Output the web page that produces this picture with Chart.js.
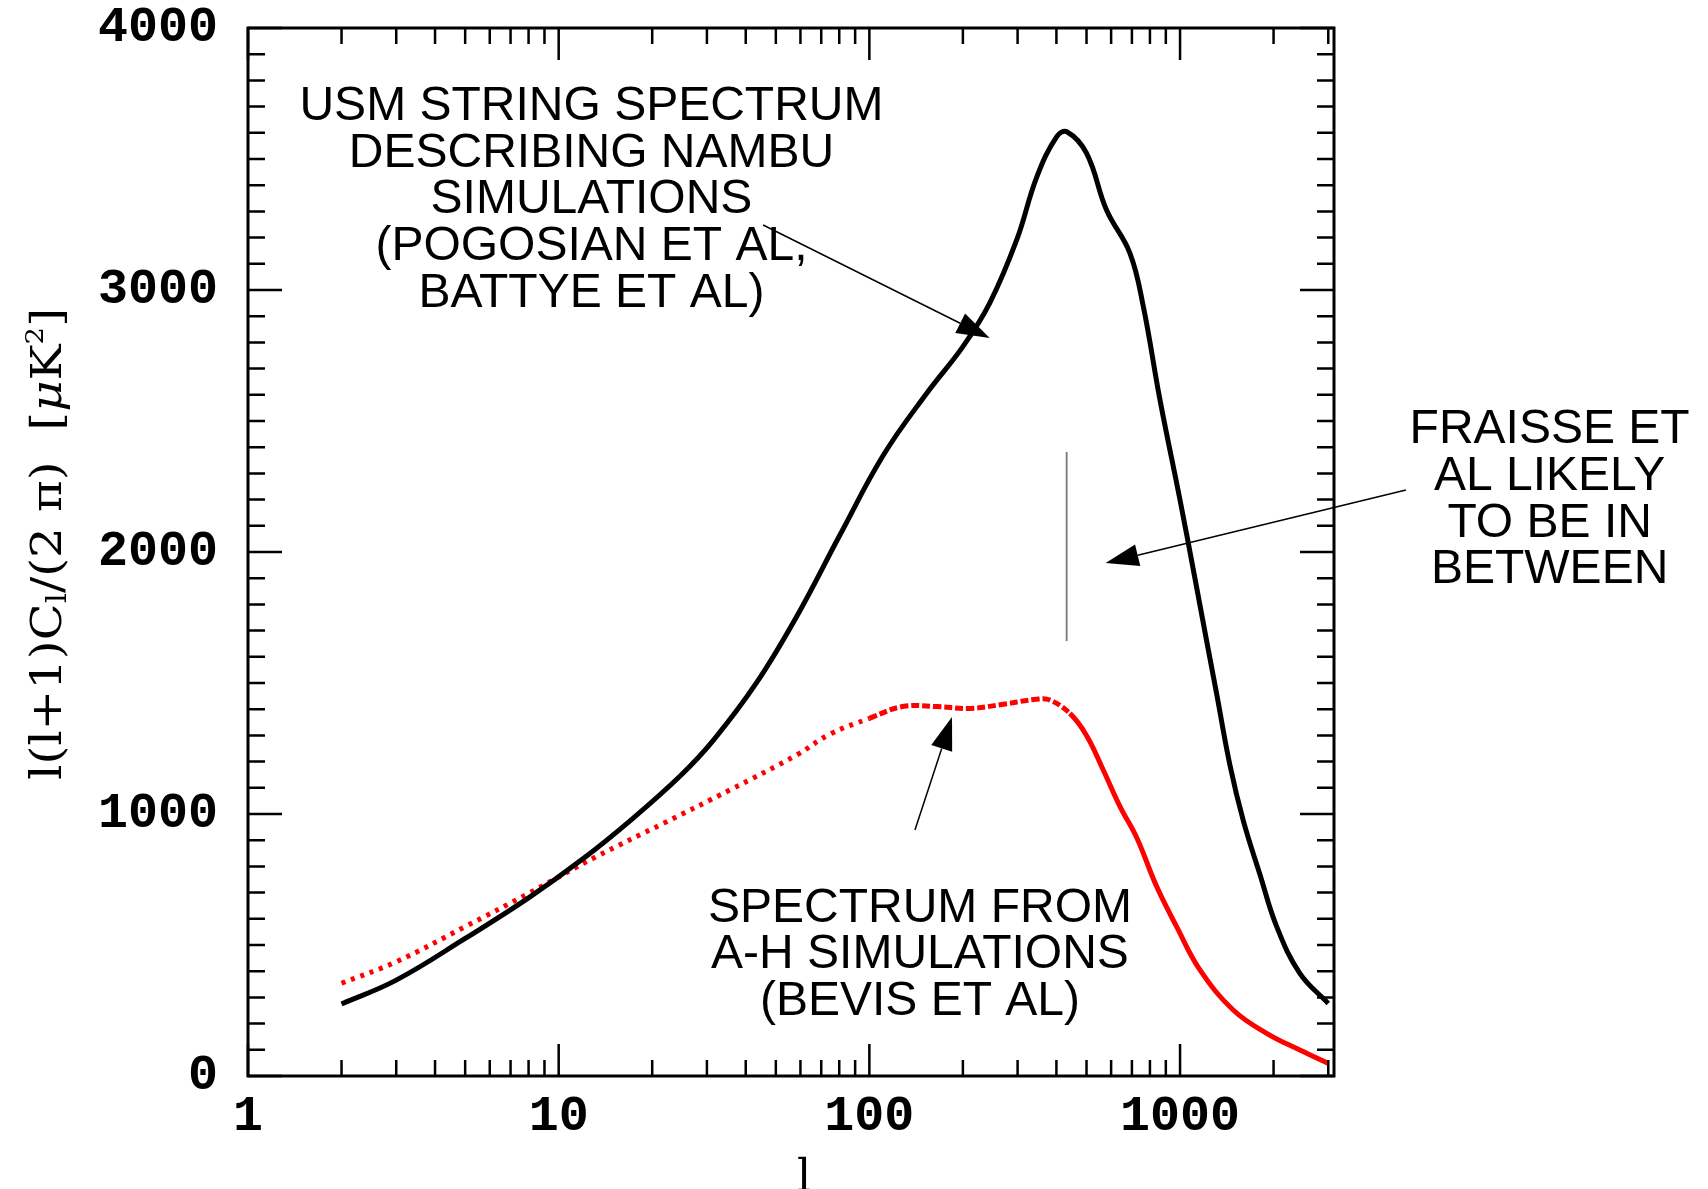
<!DOCTYPE html>
<html>
<head>
<meta charset="utf-8">
<title>String CMB spectra</title>
<script src="https://cdn.jsdelivr.net/npm/chart.js@4.4.1/dist/chart.umd.min.js"></script>
<style>
    html, body { margin: 0; padding: 0; background: #fff; }
    #wrap { width: 1708px; height: 1189px; }
</style>
</head>
<body>
<div id="wrap"><canvas id="spectrumChart" width="1708" height="1189"></canvas></div>
<script>
// USM string spectrum (Nambu simulations) - multipole l and l(l+1)C_l/2pi
const usmL = [2, 3, 5, 8, 12, 17, 24.6, 31.5, 43.4, 58.3, 80.4, 111, 153, 200, 244, 298, 346, 401, 432,
    500, 580, 690, 762, 862, 1000, 1110, 1218, 1312, 1447, 1598, 1807, 2047, 2430, 3000];
const usmPower = [275, 366, 525, 680, 830, 975, 1145, 1282, 1502, 1753, 2065, 2370, 2606, 2784, 2950, 3191, 3432, 3585, 3604,
    3522, 3305, 3140, 2936, 2580, 2198, 1916, 1660, 1458, 1187, 975, 770, 570, 392, 277];

// Abelian-Higgs spectrum (Bevis et al)
const ahL = [2, 3, 5, 8, 13.2, 21.7, 35.6, 58.3, 74.7, 100, 128, 165, 211, 270, 345, 381, 442,
    500, 566, 641, 725, 841, 975, 1159, 1483, 1900, 2430, 3000];
const ahPower = [354, 436, 570, 697, 837, 964, 1092, 1225, 1305, 1365, 1410, 1410, 1403, 1419, 1438, 1435, 1384,
    1300, 1168, 1028, 910, 723, 570, 405, 252, 163, 99, 48];

// axis ticks
const xTickValues = [1, 10, 100, 1000];
const yTickValues = [0, 1000, 2000, 3000, 4000];
const yMinorStep = 100;

// annotation text blocks and arrows, anchored in data coordinates
const notes = [
    { l: 12.75, v: 3649, lines: ['USM STRING SPECTRUM', 'DESCRIBING NAMBU', 'SIMULATIONS', '(POGOSIAN ET AL,', 'BATTYE ET AL)'] },
    { l: 145.5, v: 589, lines: ['SPECTRUM FROM', 'A-H SIMULATIONS', '(BEVIS ET AL)'] },
    { l: 15475, v: 2415, lines: ['FRAISSE ET', 'AL LIKELY', 'TO BE IN', 'BETWEEN'] }
];
const arrows = [
    { from: [45.5, 3248], to: [244, 2817] },
    { from: [5333, 2237], to: [576, 1958] },
    { from: [140.2, 939], to: [184.5, 1370] }
];
const fraisseMark = { l: 431.5, top: 2382, bottom: 1660 };

const serif = 'DejaVu Serif';
const sans = '"Liberation Sans", Arial, sans-serif';
const tickFont = { family: '"Liberation Mono", monospace', size: 50, weight: 'bold', lineHeight: 1 };

// frame with inward ticks on all four sides
const frameTicks = {
    id: 'frameTicks',
    afterDatasetsDraw(chart) {
        const { ctx, chartArea: a, scales: { x, y } } = chart;
        ctx.save();
        ctx.strokeStyle = '#000';
        ctx.lineWidth = 3;
        ctx.strokeRect(a.left, a.top, a.right - a.left, a.bottom - a.top);

        ctx.lineWidth = 2.5;
        ctx.beginPath();
        for (let v = y.min; v <= y.max; v += yMinorStep) {
            const py = y.getPixelForValue(v);
            const len = v % 1000 === 0 ? 34 : 17;
            ctx.moveTo(a.left, py); ctx.lineTo(a.left + len, py);
            ctx.moveTo(a.right, py); ctx.lineTo(a.right - len, py);
        }
        xTickValues.forEach(d => {
            for (let m = 1; m <= 9; m++) {
                const v = d * m;
                if (v < x.min || v > x.max) continue;
                const px = x.getPixelForValue(v);
                const len = m === 1 ? 32 : 16;
                ctx.moveTo(px, a.bottom); ctx.lineTo(px, a.bottom - len);
                ctx.moveTo(px, a.top); ctx.lineTo(px, a.top + len);
            }
        });
        ctx.stroke();
        ctx.restore();
    }
};

function drawArrow(ctx, x0, y0, x1, y1) {
    const ang = Math.atan2(y1 - y0, x1 - x0);
    const headLen = 33, headHalf = 11;
    const bx = x1 - headLen * Math.cos(ang), by = y1 - headLen * Math.sin(ang);
    ctx.beginPath();
    ctx.moveTo(x0, y0);
    ctx.lineTo(bx, by);
    ctx.stroke();
    ctx.beginPath();
    ctx.moveTo(x1, y1);
    ctx.lineTo(bx + headHalf * Math.sin(ang), by - headHalf * Math.cos(ang));
    ctx.lineTo(bx - headHalf * Math.sin(ang), by + headHalf * Math.cos(ang));
    ctx.closePath();
    ctx.fill();
}

// labels, arrows and axis titles
const annotations = {
    id: 'annotations',
    afterDraw(chart) {
        const { ctx, chartArea: a, scales: { x, y } } = chart;
        ctx.save();
        ctx.fillStyle = '#000';
        ctx.strokeStyle = '#000';

        ctx.font = '48px ' + sans;
        ctx.textAlign = 'center';
        ctx.textBaseline = 'alphabetic';
        notes.forEach(n => {
            const cx = x.getPixelForValue(n.l);
            const by = y.getPixelForValue(n.v);
            n.lines.forEach((t, i) => ctx.fillText(t, cx, by + i * 46.7));
        });

        ctx.lineWidth = 1.5;
        arrows.forEach(ar => {
            drawArrow(ctx,
                x.getPixelForValue(ar.from[0]), y.getPixelForValue(ar.from[1]),
                x.getPixelForValue(ar.to[0]), y.getPixelForValue(ar.to[1]));
        });

        // thin marker where Fraisse et al would sit
        ctx.strokeStyle = '#777';
        ctx.lineWidth = 1.8;
        ctx.beginPath();
        const mx = x.getPixelForValue(fraisseMark.l);
        ctx.moveTo(mx, y.getPixelForValue(fraisseMark.top));
        ctx.lineTo(mx, y.getPixelForValue(fraisseMark.bottom));
        ctx.stroke();

        // x title
        ctx.font = '44px ' + serif;
        ctx.textAlign = 'center';
        ctx.fillText('l', (a.left + a.right) / 2 + 13, 1191);

        // y title with sub/superscripts, stretched along its length
        const parts = [
            { t: 'l(l+1)C', s: 42, dy: 0 },
            { t: 'l', s: 28, dy: 9 },
            { t: '/(2 \u03c0)  [', s: 42, dy: 0 },
            { t: '\u03bc', s: 42, dy: 0, style: 'italic ' },
            { t: 'K', s: 42, dy: 0 },
            { t: '2', s: 24, dy: -13 },
            { t: ']', s: 42, dy: 0 }
        ];
        let total = 0;
        parts.forEach(p => {
            ctx.font = (p.style || '') + p.s + 'px ' + serif;
            p.w = ctx.measureText(p.t).width;
            total += p.w;
        });
        ctx.translate(50, (a.top + a.bottom) / 2 - 8);
        ctx.rotate(-Math.PI / 2);
        ctx.scale(472 / total, 1);
        ctx.textAlign = 'left';
        ctx.textBaseline = 'middle';
        let pos = -total / 2;
        parts.forEach(p => {
            ctx.font = (p.style || '') + p.s + 'px ' + serif;
            ctx.fillText(p.t, pos, p.dy);
            pos += p.w;
        });
        ctx.restore();
    }
};

document.addEventListener('DOMContentLoaded', function() {
    const usmData = usmL.map((l, i) => ({ x: l, y: usmPower[i] }));
    const ahData = ahL.map((l, i) => ({ x: l, y: ahPower[i] }));

    new Chart(document.getElementById('spectrumChart'), {
        type: 'line',
        data: {
            datasets: [{
                label: 'USM string spectrum',
                data: usmData,
                borderColor: '#000',
                borderWidth: 5,
                pointRadius: 0,
                fill: false,
                tension: 0.4
            },
            {
                label: 'Abelian-Higgs spectrum',
                data: ahData,
                borderColor: '#ff0000',
                borderWidth: 5,
                pointRadius: 0,
                fill: false,
                tension: 0.4,
                segment: {
                    borderDash: c => {
                        const l = c.p0.parsed.x;
                        if (l < 95) return [4, 6];
                        if (l < 420) return [8, 3];
                        return undefined;
                    }
                }
            }]
        },
        options: {
            responsive: false,
            animation: false,
            devicePixelRatio: 1,
            layout: { padding: { left: 0, right: 374, top: 28, bottom: 0 } },
            plugins: {
                legend: { display: false },
                tooltip: { enabled: false }
            },
            scales: {
                x: {
                    type: 'logarithmic',
                    min: 1,
                    max: 3130,
                    grid: { display: false, drawTicks: false },
                    border: { display: false },
                    afterBuildTicks: scale => {
                        scale.ticks = xTickValues.map(v => ({ value: v }));
                    },
                    afterFit: scale => {
                        scale.height = 113;
                        scale.paddingLeft = 0;
                        scale.paddingRight = 0;
                    },
                    ticks: {
                        autoSkip: false,
                        maxRotation: 0,
                        padding: 16,
                        color: '#000',
                        font: tickFont,
                        callback: v => String(v)
                    }
                },
                y: {
                    type: 'linear',
                    min: 0,
                    max: 4000,
                    grid: { display: false, drawTicks: false },
                    border: { display: false },
                    afterBuildTicks: scale => {
                        scale.ticks = yTickValues.map(v => ({ value: v }));
                    },
                    afterFit: scale => {
                        scale.width = 248;
                        scale.paddingTop = 0;
                        scale.paddingBottom = 0;
                    },
                    ticks: {
                        padding: 30,
                        color: '#000',
                        font: tickFont,
                        callback: v => String(v)
                    }
                }
            }
        },
        plugins: [frameTicks, annotations]
    });
});
</script>
</body>
</html>
